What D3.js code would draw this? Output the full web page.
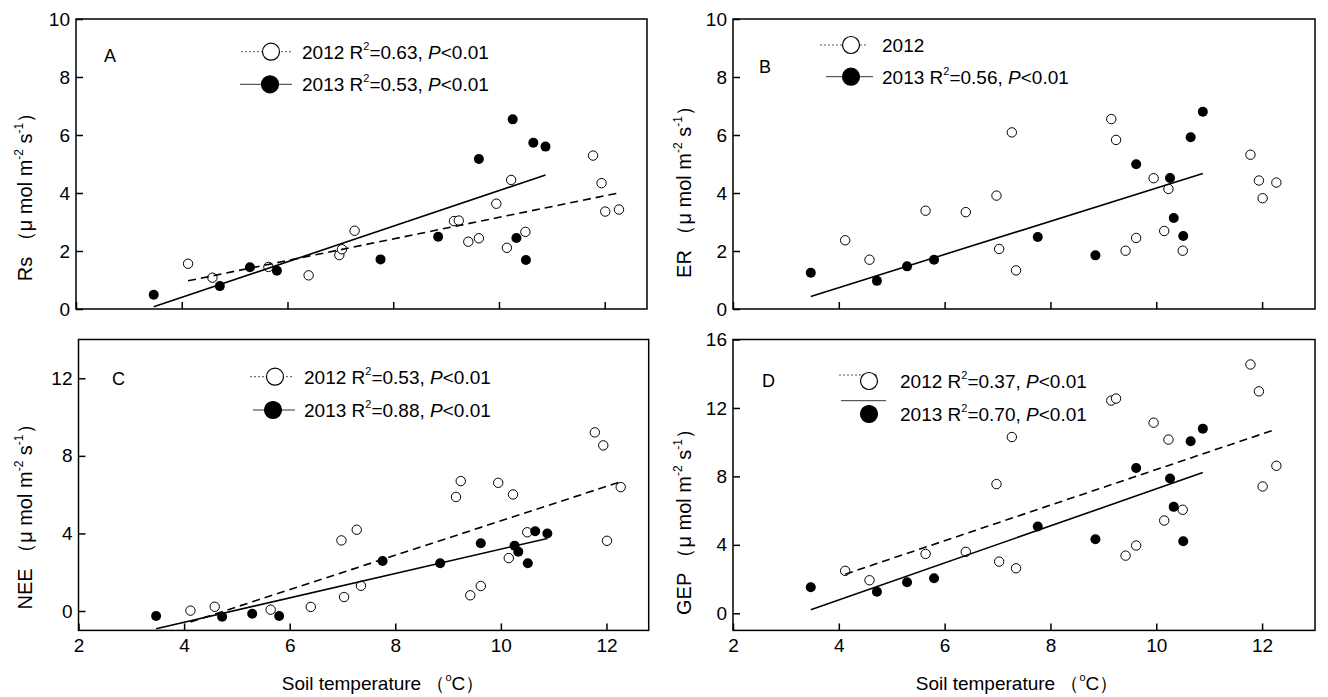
<!DOCTYPE html>
<html>
<head>
<meta charset="utf-8">
<script src="https://cdn.jsdelivr.net/npm/d3@7"></script>
<style>
  html, body { margin: 0; padding: 0; background: #fff; }
  svg { display: block; font-family: "Liberation Sans", Arial, sans-serif; }
</style>
</head>
<body>
<svg id="chart" width="1328" height="697"></svg>
<script>
// Soil temperature (x) for each sampling, shared by all panels
const temp2012 = [4.12, 4.58, 5.64, 6.40, 6.98, 7.03, 7.27, 7.35, 9.15, 9.24, 9.42, 9.62, 9.95, 10.15, 10.23, 10.50, 11.78, 11.94, 12.01, 12.27]
const temp2013 = [3.47, 4.72, 5.29, 5.80, 7.76, 8.85, 9.62, 10.26, 10.33, 10.51, 10.65, 10.88]

// Fluxes (µmol m-2 s-1); null = hidden behind another marker
const rs2012 = [1.56, 1.08, 1.45, 1.16, 1.86, 2.06, 2.70, null, 3.03, 3.05, 2.32, 2.44, 3.63, 2.11, 4.45, 2.66, 5.29, 4.34, 3.36, 3.43]
const rs2013 = [0.49, 0.79, 1.44, 1.32, 1.71, 2.49, 5.17, 6.54, 2.45, 1.69, 5.73, 5.60]
const er2012 = [2.37, 1.70, 3.39, 3.34, 3.91, 2.07, 6.09, 1.33, 6.55, 5.83, 2.01, 2.45, 4.51, 2.69, 4.14, 2.01, 5.32, 4.43, 3.82, 4.36]
const er2013 = [1.25, 0.97, 1.47, 1.70, 2.48, 1.85, 4.99, 4.52, 3.14, 2.52, 5.92, 6.80]
const nee2012 = [0.02, 0.22, 0.07, 0.21, 3.64, 0.72, 4.19, 1.30, 5.88, 6.70, 0.81, 1.29, 6.61, 2.73, 6.01, 4.06, 9.21, 8.54, 3.62, 6.39]
const nee2013 = [-0.26, -0.29, -0.14, -0.26, 2.58, 2.46, 3.49, 3.37, 3.06, 2.46, 4.11, 4.00]
const gep2012 = [2.48, 1.93, 3.47, 3.59, 7.55, 3.02, 10.30, 2.63, 12.43, 12.55, 3.37, 3.96, 11.14, 5.42, 10.15, 6.05, 14.54, 12.97, 7.41, 8.62]
const gep2013 = [1.52, 1.26, 1.81, 2.05, 5.07, 4.33, 8.49, 7.88, 6.22, 4.21, 10.05, 10.79]

// Linear fits [intercept, slope] as drawn in the figure
const fitRs2012 = [-0.56, 0.372]
const fitRs2013 = [-2.05, 0.613]
const fitEr2013 = [-1.55, 0.572]
const fitNee2012 = [-4.22, 0.887]
const fitNee2013 = [-3.09, 0.628]
const fitGep2012 = [-2.0, 1.04]
const fitGep2013 = [-3.54, 1.081]

// R² shown in legends
const r2Rs = ['0.63', '0.53']
const r2Er = [null, '0.56']
const r2Nee = ['0.53', '0.88']
const r2Gep = ['0.37', '0.70']

// Axes
const xTicks = [2, 4, 6, 8, 10, 12]
const xDomainShort = [2, 12.8]
const xDomainLong = [2, 13]
const yTicksRs = [0, 2, 4, 6, 8, 10]
const yTicksNee = [0, 4, 8, 12]
const yTicksGep = [0, 4, 8, 12, 16]
const yDomainRs = [0, 10]
const yDomainNee = [-1, 14]
const yDomainGep = [-1, 16]

const svg = d3.select('#chart')
const FONT = 19

// Text with superscripts / italics
function richText(sel, parts, size) {
  let raised = 0
  parts.forEach(p => {
    const ts = sel.append('tspan').text(p.t)
    const lift = p.sup ? Math.round(size * 0.45) : 0
    if (lift !== raised) { ts.attr('dy', raised - lift); raised = lift }
    if (p.sup) ts.attr('font-size', Math.round(size * 0.6))
    if (p.it) ts.attr('font-style', 'italic')
  })
}

const panels = [
  { letter: 'A', name: 'Rs', v2012: rs2012, v2013: rs2013, fit2012: fitRs2012, fit2013: fitRs2013, r2: r2Rs,
    xDomain: xDomainShort, yDomain: yDomainRs, yTicks: yTicksRs, xLabels: false,
    box: { l: 76, r: 647, t: 19, b: 309 }, letterPos: [104, 62], yTitle: [32, 192],
    legend: [
      { x1: 241, x2: 292, ly: 51.7, cx: 271, cy: 51.7, tx: 302, ty: 58.5 },
      { x1: 240, x2: 292, ly: 84.3, cx: 270, cy: 84.3, tx: 302, ty: 91 }
    ] },
  { letter: 'B', name: 'ER', v2012: er2012, v2013: er2013, fit2012: null, fit2013: fitEr2013, r2: r2Er,
    xDomain: xDomainLong, yDomain: yDomainRs, yTicks: yTicksRs, xLabels: false,
    box: { l: 733, r: 1315, t: 19, b: 309 }, letterPos: [759, 72.7], yTitle: [691, 187],
    legend: [
      { x1: 820, x2: 867, ly: 45, cx: 851, cy: 45, tx: 882, ty: 52 },
      { x1: 826, x2: 873, ly: 76.7, cx: 851, cy: 76.7, tx: 882, ty: 84 }
    ] },
  { letter: 'C', name: 'NEE', v2012: nee2012, v2013: nee2013, fit2012: fitNee2012, fit2013: fitNee2013, r2: r2Nee,
    xDomain: xDomainShort, yDomain: yDomainNee, yTicks: yTicksNee, xLabels: true,
    box: { l: 78.5, r: 648.7, t: 339.5, b: 630.4 }, letterPos: [112, 385], yTitle: [32, 512],
    xTitle: 383,
    legend: [
      { x1: 250, x2: 292, ly: 376.7, cx: 275, cy: 376.7, tx: 304, ty: 383.5 },
      { x1: 253, x2: 295, ly: 410, cx: 273, cy: 410, tx: 304, ty: 417 }
    ] },
  { letter: 'D', name: 'GEP', v2012: gep2012, v2013: gep2013, fit2012: fitGep2012, fit2013: fitGep2013, r2: r2Gep,
    xDomain: xDomainLong, yDomain: yDomainGep, yTicks: yTicksGep, xLabels: true,
    box: { l: 733, r: 1315, t: 339.5, b: 630.4 }, letterPos: [762, 387], yTitle: [691, 517],
    xTitle: 1017,
    legend: [
      { x1: 839, x2: 877, ly: 375, cx: 869, cy: 381, tx: 900, ty: 388 },
      { x1: 841, x2: 886, ly: 400.7, cx: 869, cy: 414, tx: 900, ty: 421 }
    ] }
]

panels.forEach(p => {
  const { l, r, t, b } = p.box
  const x = d3.scaleLinear().domain(p.xDomain).range([l, r])
  const y = d3.scaleLinear().domain(p.yDomain).range([b, t])
  const g = svg.append('g')

  // X axis (ticks inward)
  const gx = g.append('g')
    .attr('transform', `translate(0,${b})`)
    .call(d3.axisBottom(x)
      .tickValues(xTicks)
      .tickSizeInner(-7)
      .tickSizeOuter(0)
      .tickPadding(8.5)
      .tickFormat(p.xLabels ? d3.format('d') : () => ''))
    .attr('font-size', FONT)
    .attr('font-family', null)
  gx.select('.domain').remove()
  gx.selectAll('line').attr('stroke-width', 1.5)
  gx.selectAll('text').attr('fill', '#000')

  // Y axis
  const gy = g.append('g')
    .attr('transform', `translate(${l},0)`)
    .call(d3.axisLeft(y)
      .tickValues(p.yTicks)
      .tickSizeInner(-7)
      .tickSizeOuter(0)
      .tickPadding(6)
      .tickFormat(d3.format('d')))
    .attr('font-size', FONT)
    .attr('font-family', null)
  gy.select('.domain').remove()
  gy.selectAll('line').attr('stroke-width', 1.5)
  gy.selectAll('text').attr('fill', '#000')

  // Frame
  g.append('rect')
    .attr('x', l).attr('y', t)
    .attr('width', r - l).attr('height', b - t)
    .attr('fill', 'none')
    .attr('stroke', '#000')
    .attr('stroke-width', 1.5)

  // Points
  const pts2012 = temp2012.map((tv, i) => ({ x: tv, y: p.v2012[i] })).filter(d => d.y !== null)
  const pts2013 = temp2013.map((tv, i) => ({ x: tv, y: p.v2013[i] }))

  g.selectAll('.open')
    .data(pts2012)
    .enter()
    .append('circle')
    .attr('cx', d => x(d.x))
    .attr('cy', d => y(d.y))
    .attr('r', 4.7)
    .attr('fill', '#fff')
    .attr('stroke', '#000')
    .attr('stroke-width', 1)

  g.selectAll('.filled')
    .data(pts2013)
    .enter()
    .append('circle')
    .attr('cx', d => x(d.x))
    .attr('cy', d => y(d.y))
    .attr('r', 5)
    .attr('fill', '#000')

  // Fit lines over the data range
  const fitLine = (fit, temps, dash) => {
    const ext = d3.extent(temps)
    g.append('path')
      .datum(ext.map(v => ({ x: v, y: fit[0] + fit[1] * v })))
      .attr('fill', 'none')
      .attr('stroke', '#000')
      .attr('stroke-width', 1.6)
      .attr('stroke-dasharray', dash)
      .attr('d', d3.line().x(d => x(d.x)).y(d => y(d.y)))
  }
  if (p.fit2012) fitLine(p.fit2012, temp2012, '8,5')
  if (p.fit2013) fitLine(p.fit2013, temp2013, null)

  // Panel letter
  g.append('text')
    .attr('x', p.letterPos[0])
    .attr('y', p.letterPos[1])
    .attr('font-size', 18)
    .text(p.letter)

  // Legend
  const years = ['2012', '2013']
  p.legend.forEach((lg, i) => {
    g.append('line')
      .attr('x1', lg.x1).attr('x2', lg.x2)
      .attr('y1', lg.ly).attr('y2', lg.ly)
      .attr('stroke', i === 0 ? '#555' : '#333')
      .attr('stroke-width', 1)
      .attr('stroke-dasharray', i === 0 ? '2,2' : null)
    g.append('circle')
      .attr('cx', lg.cx).attr('cy', lg.cy)
      .attr('r', 8.5)
      .attr('fill', i === 0 ? '#fff' : '#000')
      .attr('stroke', '#000')
      .attr('stroke-width', 1.2)
    const txt = g.append('text')
      .attr('x', lg.tx).attr('y', lg.ty)
      .attr('font-size', FONT)
      .style('white-space', 'pre')
    const r2 = p.r2[i]
    const parts = r2
      ? [{ t: years[i] + ' R' }, { t: '2', sup: true }, { t: '=' + r2 + ', ' }, { t: 'P', it: true }, { t: '<0.01' }]
      : [{ t: years[i] }]
    richText(txt, parts, FONT)
  })

  // Y title
  const yt = g.append('text')
    .attr('transform', `translate(${p.yTitle[0]},${p.yTitle[1]}) rotate(-90)`)
    .attr('text-anchor', 'middle')
    .attr('font-size', 20)
    .style('white-space', 'pre')
  richText(yt, [
    { t: p.name + ' （μ mol m' }, { t: '-2', sup: true },
    { t: ' s' }, { t: '-1', sup: true }, { t: '）' }
  ], 20)

  // X title
  if (p.xTitle) {
    const xt = g.append('text')
      .attr('x', p.xTitle)
      .attr('y', 690)
      .attr('text-anchor', 'middle')
      .attr('font-size', FONT)
      .style('white-space', 'pre')
    richText(xt, [{ t: 'Soil temperature （' }, { t: 'o', sup: true }, { t: 'C）' }], FONT)
  }
})
</script>
</body>
</html>
